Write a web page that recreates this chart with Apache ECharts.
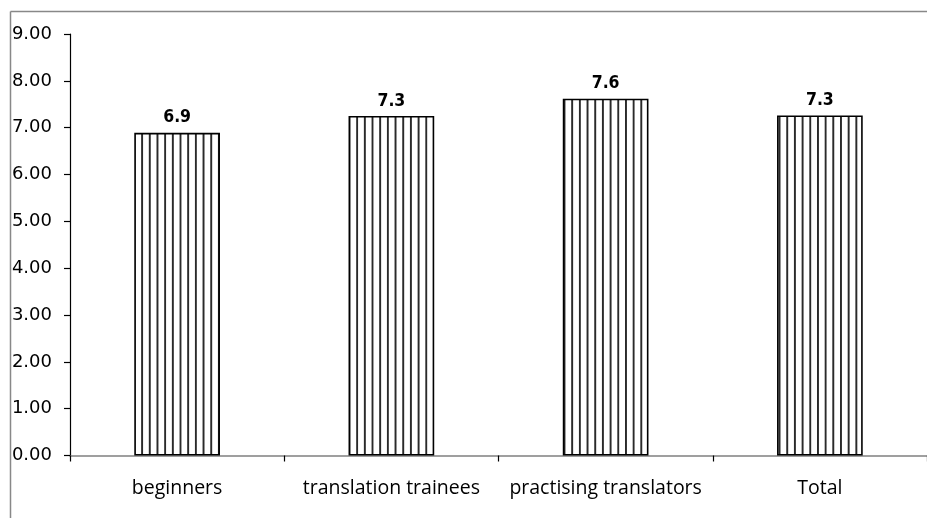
<!DOCTYPE html>
<html>
<head>
<meta charset="utf-8">
<script src="https://cdn.jsdelivr.net/npm/echarts@6/dist/echarts.min.js"></script>
<style>
html,body{margin:0;padding:0;background:#fff;}
#chart{width:927px;height:518px;}
</style>
</head>
<body>
<div id="chart"></div>
<script>
const categories = ['beginners', 'translation trainees', 'practising translators', 'Total'];
const values = [6.89, 7.25, 7.62, 7.26];
const valueLabels = ['6.9', '7.3', '7.6', '7.3'];
const yTicks = [0, 1, 2, 3, 4, 5, 6, 7, 8, 9];

// vertical stripe pattern
const pc = document.createElement('canvas');
pc.width = 8; pc.height = 8;
const ctx = pc.getContext('2d');
ctx.fillStyle = '#ffffff';
ctx.fillRect(0, 0, 8, 8);
ctx.fillStyle = '#2a2a2a';
ctx.fillRect(3, 0, 2, 8);

const chart = echarts.init(document.getElementById('chart'), null, {renderer: 'canvas'});
chart.setOption({
  animation: false,
  backgroundColor: '#ffffff',
  grid: {left: 70, top: 34, width: 868, height: 421.5, containLabel: false},
  xAxis: {
    type: 'category',
    data: categories,
    axisLine: {lineStyle: {color: '#808080', width: 1.5}},
    axisTick: {show: true, interval: 0, length: 6, lineStyle: {color: '#000', width: 1.2}},
    axisLabel: {interval: 0, fontFamily: 'Open Sans', fontSize: 19.5, color: '#000', margin: 23}
  },
  yAxis: {
    type: 'value',
    min: 0, max: 9, interval: 1,
    axisLine: {show: true, lineStyle: {color: '#000', width: 1.2}},
    axisTick: {show: true, length: 6, lineStyle: {color: '#000', width: 1.2}},
    splitLine: {show: false},
    axisLabel: {
      fontFamily: 'DejaVu Sans', fontSize: 18, color: '#000', margin: 18,
      formatter: v => yTicks.includes(v) ? v.toFixed(2) : ''
    }
  },
  series: [{
    type: 'bar',
    data: values,
    barWidth: '40%',
    itemStyle: {
      color: {image: pc, repeat: 'repeat', scaleX: 0.96},
      borderColor: '#000',
      borderWidth: 1.6
    },
    label: {
      show: true, position: 'top', distance: 6,
      fontFamily: 'DejaVu Sans Condensed', fontWeight: 'bold', fontSize: 17.5, color: '#000',
      formatter: p => valueLabels[p.dataIndex]
    }
  }],
  graphic: [
    {type: 'line', shape: {x1: 10.5, y1: 11.5, x2: 927, y2: 11.5}, style: {stroke: '#888', lineWidth: 1.5}},
    {type: 'line', shape: {x1: 10.5, y1: 11.5, x2: 10.5, y2: 518}, style: {stroke: '#888', lineWidth: 1.5}}
  ]
});
</script>
</body>
</html>
